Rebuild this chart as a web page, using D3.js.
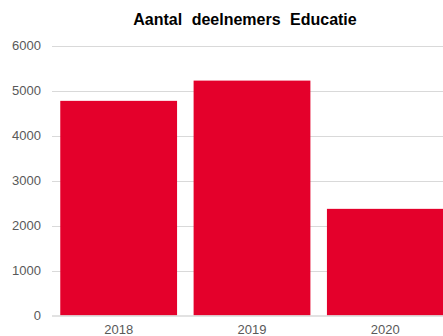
<!DOCTYPE html>
<html>
<head>
<meta charset="utf-8">
<script src="https://cdn.jsdelivr.net/npm/d3@7"></script>
<style>
  html, body { margin: 0; padding: 0; background: #fff; }
  svg { display: block; }
</style>
</head>
<body>
<svg id="chart" width="443" height="336"></svg>
<script>
// Participants per year
const years = ["2018", "2019", "2020"];
const participants = [4770, 5220, 2370];
const yTicks = [0, 1000, 2000, 3000, 4000, 5000, 6000];
const title = "Aantal deelnemers Educatie";

const svg = d3.select("#chart");
const W = 443, H = 336;
const plot = { left: 52, right: 452, top: 45.5, bottom: 315.5 };

const x = d3.scaleBand()
  .domain(years)
  .range([plot.left, plot.right])
  .paddingInner(0.124)
  .paddingOuter(0.062);

const y = d3.scaleLinear()
  .domain([0, 6000])
  .range([plot.bottom, plot.top]);

// Horizontal gridlines
svg.append("g")
  .selectAll("line")
  .data(yTicks.filter(d => d > 0))
  .join("line")
  .attr("x1", plot.left)
  .attr("x2", W)
  .attr("y1", d => Math.round(y(d)) + 0.5)
  .attr("y2", d => Math.round(y(d)) + 0.5)
  .attr("stroke", "#d9d9d9")
  .attr("stroke-width", 1);

// Y tick labels
svg.append("g")
  .selectAll("text")
  .data(yTicks)
  .join("text")
  .attr("x", 41)
  .attr("y", d => y(d))
  .attr("dy", "0.35em")
  .attr("text-anchor", "end")
  .attr("font-family", "Liberation Sans, Arial, sans-serif")
  .attr("font-size", 13)
  .attr("fill", "#595959")
  .text(d => d);

// Bars
svg.append("g")
  .selectAll("rect")
  .data(years.map((yr, i) => ({ yr, v: participants[i] })))
  .join("rect")
  .attr("x", d => x(d.yr))
  .attr("width", x.bandwidth())
  .attr("y", d => y(d.v))
  .attr("height", d => y(0) - y(d.v))
  .attr("fill", "#e4002b");

// Baseline
svg.append("line")
  .attr("x1", plot.left)
  .attr("x2", W)
  .attr("y1", y(0) + 0.5)
  .attr("y2", y(0) + 0.5)
  .attr("stroke", "#d9d9d9")
  .attr("stroke-width", 1.5);

// X labels
svg.append("g")
  .selectAll("text")
  .data(years)
  .join("text")
  .attr("x", d => x(d) + x.bandwidth() / 2)
  .attr("y", 334)
  .attr("text-anchor", "middle")
  .attr("font-family", "Liberation Sans, Arial, sans-serif")
  .attr("font-size", 13)
  .attr("fill", "#595959")
  .text(d => d);

// Title
svg.append("text")
  .attr("x", 245)
  .attr("y", 24.5)
  .attr("text-anchor", "middle")
  .attr("font-family", "Liberation Sans, Arial, sans-serif")
  .attr("font-size", 16)
  .attr("font-weight", "bold")
  .attr("word-spacing", 5)
  .attr("fill", "#000")
  .text(title);
</script>
</body>
</html>
